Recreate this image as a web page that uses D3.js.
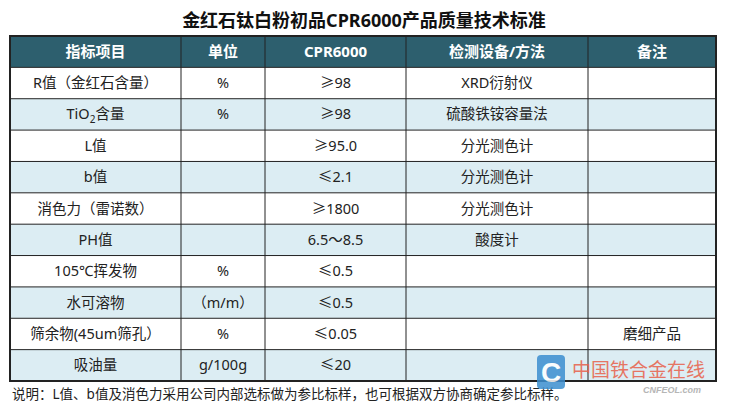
<!DOCTYPE html><html><head><meta charset="utf-8"><script src="https://cdn.jsdelivr.net/npm/d3@7"></script>
<style>body{margin:0;background:#fff}</style></head><body><svg id="c" width="729" height="408"></svg>
<script>
const title="金红石钛白粉初品CPR6000产品质量技术标准";
const headers=["指标项目","单位","CPR6000","检测设备/方法","备注"];
const col1=["R值（金红石含量）","TiO₂含量","L值","b值","消色力（雷诺数）","PH值","105℃挥发物","水可溶物","筛余物(45um筛孔）","吸油量"];
const col2=["%","%","","","","","%","（m/m）","%","g/100g"];
const col3=["≥98","≥98","≥95.0","≤2.1","≥1800","6.5～8.5","≤0.5","≤0.5","≤0.05","≤20"];
const col4=["XRD衍射仪","硫酸铁铵容量法","分光测色计","分光测色计","分光测色计","酸度计","","","",""];
const col5=["","","","","","","","","磨细产品",""];
const note="说明：L值、b值及消色力采用公司内部选标做为参比标样，也可根据双方协商确定参比标样。";
const colEdges=[10,181,265,406,588,716];
const svg=d3.select("#c");
const F="'Noto Sans','Noto Sans CJK SC',sans-serif";
svg.append("text").attr("x",364).attr("y",27).attr("text-anchor","middle").attr("font-family",F).attr("font-weight","bold").attr("font-size",18).attr("fill","#111").text(title);
const y=d3.scaleLinear().domain([0,11]).range([36,381]);
const rows=[headers].concat(col1.map((d,i)=>[d,col2[i],col3[i],col4[i],col5[i]]));
rows.forEach((r,i)=>{
  const fill=i===0?"#2d5f6e":(i%2===1?"#ffffff":"#dcedf3");
  svg.append("rect").attr("x",10).attr("y",y(i)).attr("width",706).attr("height",y(i+1)-y(i)).attr("fill",fill);
  r.forEach((t,j)=>{
    const cx=(colEdges[j]+colEdges[j+1])/2;
    const tx=svg.append("text").attr("x",cx).attr("y",(y(i)+y(i+1))/2+5).attr("text-anchor","middle").attr("font-family",F).attr("font-size",i===0?15:14.5).attr("font-weight",i===0?"bold":"normal").attr("fill",i===0?"#fff":"#222");
    if(t.includes("₂")){const p=t.split("₂");tx.append("tspan").text(p[0]);tx.append("tspan").attr("font-size",10).attr("dy",4).text("2");tx.append("tspan").attr("dy",-4).text(p[1]);}
    else tx.text(t);
  });
});
for(let i=1;i<11;i++) svg.append("line").attr("x1",10).attr("x2",716).attr("y1",y(i)).attr("y2",y(i)).attr("stroke","#222").attr("stroke-width",1);
colEdges.slice(1,-1).forEach(x=>svg.append("line").attr("x1",x).attr("x2",x).attr("y1",y(0)).attr("y2",y(11)).attr("stroke","#222"));
svg.append("rect").attr("x",10).attr("y",y(0)).attr("width",706).attr("height",y(11)-y(0)).attr("fill","none").attr("stroke","#222").attr("stroke-width",2);
svg.append("text").attr("x",12).attr("y",399).attr("font-family",F).attr("font-size",13.5).attr("fill","#222").text(note);
const g=svg.append("g").attr("opacity",0.85);
g.append("rect").attr("x",537).attr("y",355).attr("width",28).attr("height",34).attr("rx",4).attr("fill","#3c8fd0");
g.append("text").attr("x",551).attr("y",382).attr("text-anchor","middle").attr("font-family","Arial").attr("font-weight","bold").attr("font-size",28).attr("fill","#fff").text("C");
g.append("text").attr("x",572).attr("y",377).attr("font-family",F).attr("font-size",19).attr("fill","#e8614a").text("中国铁合金在线");
g.append("text").attr("x",643).attr("y",393).attr("font-family","Arial").attr("font-style","italic").attr("font-weight","bold").attr("font-size",9).attr("fill","#aaa").text("CNFEOL.com");
</script></body></html>
